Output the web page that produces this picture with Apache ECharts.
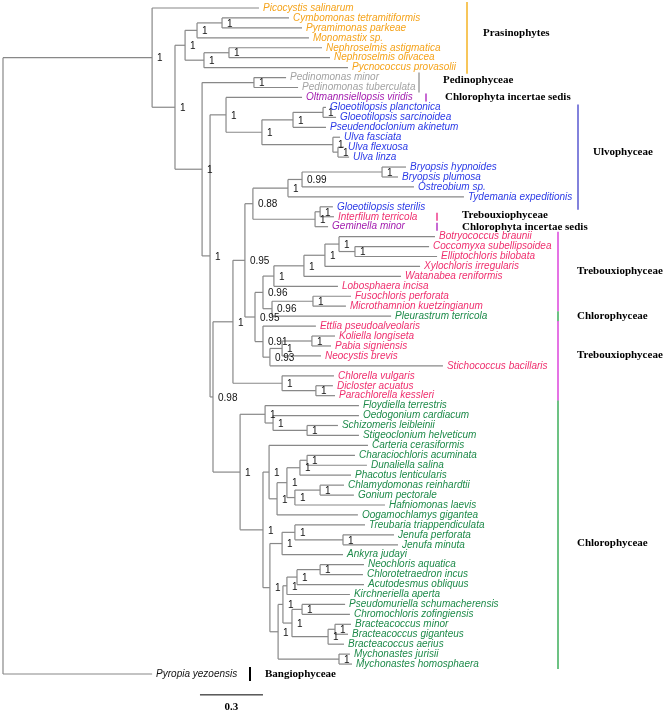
<!DOCTYPE html>
<html><head><meta charset="utf-8">
<script src="https://cdn.jsdelivr.net/npm/echarts@6/dist/echarts.min.js"></script>
<style>html,body{margin:0;padding:0;background:#fff}#c{width:666px;height:711px}</style>
</head><body><div id="c"></div>
<script>
// ---------- DATA ----------
const leafNames = [
 'Picocystis salinarum','Cymbomonas tetramitiformis','Pyramimonas parkeae','Monomastix sp.',
 'Nephroselmis astigmatica','Nephroselmis olivacea','Pycnococcus provasolii',
 'Pedinomonas minor','Pedinomonas tuberculata','Oltmannsiellopsis viridis',
 'Gloeotilopsis planctonica','Gloeotilopsis sarcinoidea','Pseudendoclonium akinetum',
 'Ulva fasciata','Ulva flexuosa','Ulva linza','Bryopsis hypnoides','Bryopsis plumosa',
 'Ostreobium sp.','Tydemania expeditionis','Gloeotilopsis sterilis','Interfilum terricola',
 'Geminella minor','Botryococcus braunii','Coccomyxa subellipsoidea','Elliptochloris bilobata',
 'Xylochloris irregularis','Watanabea reniformis','Lobosphaera incisa','Fusochloris perforata',
 'Microthamnion kuetzingianum','Pleurastrum terricola','Ettlia pseudoalveolaris',
 'Koliella longiseta','Pabia signiensis','Neocystis brevis','Stichococcus bacillaris',
 'Chlorella vulgaris','Dicloster acuatus','Parachlorella kessleri','Floydiella terrestris',
 'Oedogonium cardiacum','Schizomeris leibleinii','Stigeoclonium helveticum',
 'Carteria cerasiformis','Characiochloris acuminata','Dunaliella salina',
 'Phacotus lenticularis','Chlamydomonas reinhardtii','Gonium pectorale',
 'Hafniomonas laevis','Oogamochlamys gigantea','Treubaria triappendiculata',
 'Jenufa perforata','Jenufa minuta','Ankyra judayi','Neochloris aquatica',
 'Chlorotetraedron incus','Acutodesmus obliquus','Kirchneriella aperta',
 'Pseudomuriella schumacherensis','Chromochloris zofingiensis','Bracteacoccus minor',
 'Bracteacoccus giganteus','Bracteacoccus aerius','Mychonastes jurisii',
 'Mychonastes homosphaera','Pyropia yezoensis'
];
const leafGroup = [
 'P','P','P','P','P','P','P','Pd','Pd','I',
 'U','U','U','U','U','U','U','U','U','U','U',
 'T','I','T','T','T','T','T','T','T','T','C',
 'T','T','T','T','T','T','T','T',
 'C','C','C','C','C','C','C','C','C','C','C','C','C','C','C','C','C','C','C','C','C','C','C','C','C','C','C',
 'B'
];
const leafParent = [
 'A','F','F','D','G','G','E','P','P','J',
 'T','T','R1','S','U','U','Z','Z','Y','W','AA',
 'AA','X','N9','N10','N10','N8','N7','N5','N11','N11','N6',
 'N4','N14','N14','N13','N12','N15','N16','N16',
 'N17','N19','N20','N20','N21','N25','N25','N26','NCG','NCG','N28','N23','N29','NJ','NJ','N30',
 'NNC','NNC','NNCA','NK','NPC','NPC','NB2','NB2','NB3','NMY','NMY',
 'root'
];
// distance from root (substitutions per site)
const leafDepth = [
 1.219,1.362,1.424,1.457,1.519,1.557,1.643,1.348,1.405,1.424,
 1.538,1.586,1.538,1.605,1.624,1.648,1.919,1.881,1.957,2.195,1.571,
 1.576,1.548,2.057,2.029,2.067,1.986,1.895,1.595,1.657,1.633,1.848,
 1.490,1.581,1.562,1.514,2.095,1.576,1.571,1.581,
 1.695,1.695,1.595,1.695,1.738,1.676,1.733,1.657,1.624,1.671,1.819,1.690,1.724,1.862,1.881,1.619,
 1.719,1.714,1.719,1.652,1.629,1.652,1.657,1.643,1.624,1.652,1.662,
 0.710
];
const nodeIds =     ['root','A','B','C','D','F','E','G','H','P','I','J','Q','R1','T','S','U','K','L','N1','V','W','Y','Z','X','AA','N2','N3','N5','N7','N8','N9','N10','N6','N11','N4','N12','N13','N14','N15','N16','M','N17','N19','N20','N18','N21','N23','N24','N26','N25','N28','NCG','NC','N30','N29','NJ','NB','NA','NK','NNCA','NNC','NPB','NPC','NB3','NB2','NMY'];
const nodeParent =  [null,'root','A','B','C','D','C','E','B','H','H','I','J','Q','R1','Q','S','I','K','L','N1','V','W','Y','V','X','N1','N2','N3','N5','N7','N8','N9','N3','N6','N2','N4','N12','N13','L','N15','K','M','N17','N19','M','N18','N21','N23','N24','N26','N24','N28','N18','NC','N30','N29','NC','NB','NA','NK','NNCA','NA','NPB','NPB','NB3','NB'];
const nodeDepth =   [0,0.710,0.819,0.867,0.924,1.043,0.957,1.076,0.948,1.195,0.986,1.062,1.233,1.381,1.524,1.571,1.595,1.000,1.095,1.152,1.190,1.357,1.424,1.805,1.486,1.510,1.200,1.238,1.290,1.433,1.533,1.600,1.676,1.281,1.476,1.238,1.271,1.329,1.471,1.329,1.490,1.129,1.248,1.286,1.448,1.238,1.267,1.305,1.352,1.414,1.448,1.390,1.510,1.271,1.329,1.390,1.619,1.310,1.333,1.352,1.400,1.510,1.376,1.424,1.548,1.581,1.600];
const nodeSupport = ['','1','1','1','1','1','1','1','1','1','1','1','1','1','1','1','1','0.98','1','0.95','0.88','1','0.99','1','1','1','0.95','0.96','1','1','1','1','1','0.96','1','0.91','0.93','1','1','1','1','1','1','1','1','1','1','1','1','1','1','1','1','1','1','1','1','1','1','1','1','1','1','1','1','1','1'];

const groupNames = ['Prasinophytes','Pedinophyceae','Chlorophyta incertae sedis','Ulvophyceae','Trebouxiophyceae','Chlorophyta incertae sedis','Trebouxiophyceae','Chlorophyceae','Trebouxiophyceae','Chlorophyceae','Bangiophyceae'];
const groupFirstLeaf = [0,7,9,10,21,22,23,31,32,40,67];
const groupLastLeaf  = [6,8,9,20,21,22,30,31,39,66,67];

const scaleBarLength = 0.3;
const scaleBarLabel = '0.3';

// ---------- STYLE / LAYOUT ----------
const textColor = {P:'#F5A31A', Pd:'#A3A3A3', I:'#A21CAF', U:'#2B3AE6', T:'#EF2F6E', C:'#1E8A4A', B:'#111'};
const groupLayout = [
 {barX:467, pad:6, labelX:483, dy:-5, color:'#F5B324'},
 {barX:419, pad:5, labelX:443, dy:-2, color:'#A0A0A0'},
 {barX:426, pad:4, labelX:445, dy:0, color:'#B437C4'},
 {barX:578, pad:3, labelX:593, dy:-5, color:'#5858D0'},
 {barX:437, pad:4, labelX:462, dy:-2, color:'#EE3C8C'},
 {barX:437, pad:4, labelX:462, dy:0, color:'#B437C4'},
 {barX:558, pad:5, labelX:577, dy:0, color:'#DD44DD'},
 {barX:558, pad:5, labelX:577, dy:0, color:'#3DAE5A'},
 {barX:558, pad:5, labelX:577, dy:-6, color:'#DD44DD'},
 {barX:558, pad:5, labelX:577, dy:8, color:'#3DAE5A'},
 {barX:250, pad:7, labelX:265, dy:0, color:'#000000', w:2}
];
const branchColor = '#888888';
const leafFont = 'italic 10px "Liberation Sans", Arial, sans-serif';
const supFont = '10px "Liberation Sans", Arial, sans-serif';
const groupFont = 'bold 11px "Liberation Serif", "Times New Roman", serif';

// ---------- BUILD TREE ----------
const nodes = {};
nodeIds.forEach((id, k) => { nodes[id] = {id, depth: nodeDepth[k], support: nodeSupport[k], parent: nodeParent[k], kids: []}; });
const leaves = leafNames.map((nm, i) => ({name: nm, depth: leafDepth[i], y: i, leaf: true, parent: leafParent[i], group: leafGroup[i]}));
leaves.forEach(l => nodes[l.parent].kids.push(l));
nodeIds.forEach((id, k) => { if (nodeParent[k]) nodes[nodeParent[k]].kids.push(nodes[id]); });
function setY(n) {
  if (n.leaf) return n.y;
  const ys = n.kids.map(setY);
  n.y0 = Math.min(...ys); n.y1 = Math.max(...ys);
  n.y = (n.y0 + n.y1) / 2;
  return n.y;
}
setY(nodes.root);

function renderTree(params, api) {
  const els = [];
  const c = (x, y) => api.coord([x, y]);
  const line = (p, q, stroke, w) => els.push({type:'line', shape:{x1:p[0], y1:p[1], x2:q[0], y2:q[1]}, style:{stroke, lineWidth:w || 1}});
  const all = nodeIds.map(id => nodes[id]).concat(leaves);
  all.forEach(n => {
    if (n.parent) line(c(nodes[n.parent].depth, n.y), c(n.depth, n.y), branchColor, 1.2);
    if (!n.leaf) line(c(n.depth, n.y0), c(n.depth, n.y1), branchColor, 1.2);
  });
  nodeIds.forEach(id => {
    const n = nodes[id];
    if (!n.support) return;
    const p = c(n.depth, n.y);
    els.push({type:'text', style:{text:n.support, x:p[0] + 5, y:p[1] + 1, font:supFont, fill:'#111', textAlign:'left', textVerticalAlign:'middle', align:'left', verticalAlign:'middle'}});
  });
  leaves.forEach(l => {
    const p = c(l.depth, l.y);
    els.push({type:'text', style:{text:l.name, x:p[0] + 4, y:p[1], font:leafFont, fill:textColor[l.group], textAlign:'left', textVerticalAlign:'middle', align:'left', verticalAlign:'middle'}});
  });
  // group brackets
  groupNames.forEach((g, k) => {
    const L = groupLayout[k];
    const ya = c(0, groupFirstLeaf[k])[1] - L.pad, yb = c(0, groupLastLeaf[k])[1] + L.pad;
    line([L.barX, ya], [L.barX, yb], L.color, L.w || 1.5);
    els.push({type:'text', style:{text:g, x:L.labelX, y:(ya + yb) / 2 + L.dy, font:groupFont, fill:'#000', textAlign:'left', textVerticalAlign:'middle', align:'left', verticalAlign:'middle'}});
  });
  // scale bar
  const sb0 = nodes.root.depth + 0.938, yb = leafNames.length + 1.1;
  const a = c(sb0, yb), b = c(sb0 + scaleBarLength, yb);
  line(a, b, '#000', 1);
  els.push({type:'text', style:{text:scaleBarLabel, x:(a[0] + b[0]) / 2, y:a[1] + 12, font:groupFont, fill:'#000', textAlign:'center', textVerticalAlign:'middle', align:'center', verticalAlign:'middle'}});
  return {type:'group', children: els};
}

const chart = echarts.init(document.getElementById('c'), null, {renderer:'canvas'});
chart.setOption({
  animation: false,
  backgroundColor: '#fff',
  grid: {left: 3, top: 8, width: 630, height: 666},
  xAxis: {type:'value', min:0, max:3, show:false},
  yAxis: {type:'value', min:0, max:leafNames.length - 1, inverse:true, show:false},
  series: [{type:'custom', renderItem: renderTree, data: [[0, 0]], clip: false, silent: true}]
});
</script>
</body></html>
